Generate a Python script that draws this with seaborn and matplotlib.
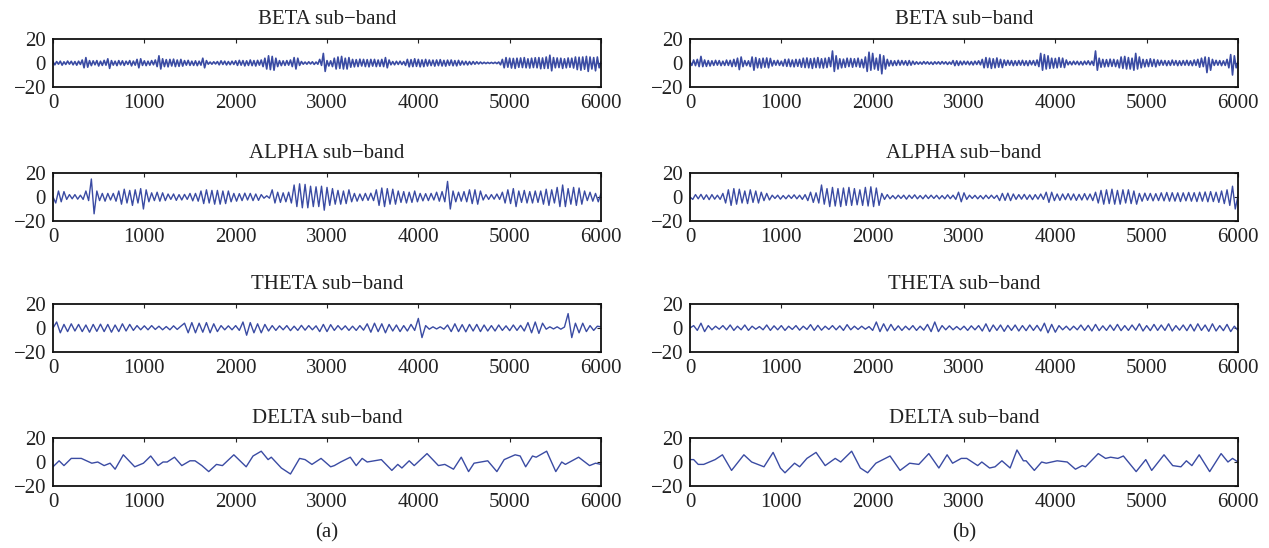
import numpy as np
import matplotlib
matplotlib.use("Agg")
import matplotlib.pyplot as plt
import seaborn as sns

beta_step = 20
alpha_step = 30
theta_step = 40

# (a) BETA, 20 samples per value, one row per 600 samples
beta_a = [
    [1, -1.5, 1.2, -1, 1.5, -1.8, 1, -1.2, 1.6, -1, 1.4, -1.5, 1.2, -1.8, 1.5, -1.2, 2.5, -4, 4.5, -3.5, 2, -2.2, 1.8, -1.5, 2, -2.5, 1.5, -2, 2.2, -1.8],
    [3.5, -4.5, 2, -1.8, 1.5, -2.2, 2, -1.6, 1.8, -2, 1.5, -1.2, 2, -2.4, 1.6, -1.8, 3, -4, 3.5, -2, 1.8, -2.2, 1.5, -1.8, 2, -1.5, 2.5, -3, 6, -5],
    [3.5, -3, 2.8, -3.2, 3, -2.5, 3.2, -3, 2.5, -2.8, 3, -2.6, 2, -1.8, 2.2, -2, 1.5, -2, 1.8, -2.2, 1.5, -1.8, 4, -4, 2, -1, 0.8, -1, 1, -0.8],
    [1.2, -1.5, 1.8, -1.2, 1.5, -1.6, 1.2, -1.4, 1.5, -1.2, 1.8, -2, 2.2, -1.8, 2, -2.4, 1.8, -2, 2.5, -2.2, 2, -2.5, 2.2, -1.8, 2.5, -3, 4, -5, 6, -5.5],
    [5.5, -6, 4, -3, 2, -2.2, 1.8, -2, 2, -1.8, 2.5, -3, 4.5, -5, 4, -2, 1.2, -1, 0.8, -1, 1, -0.8, 1, -1.2, 0.8, -1, 3, -2, 8, -7],
    [2, -2.5, 1.8, -3, 4, -5, 5, -4.5, 5.5, -5, 4, -5, 4.5, -3.5, 3, -3.2, 2.8, -3, 3.2, -2.5, 3, -3, 2.8, -3.2, 3, -2.6, 3, -3, 2.5, -2.8],
    [3, -3, 4.5, -4, 2.5, -1.5, 1.2, -1.5, 1.4, -1.2, 1.5, -1.3, 1.2, -2, 3, -3.2, 2.8, -3, 3.5, -2.8, 3, -3.2, 2.6, -3, 3, -2.5, 2.5, -2.2, 2.4, -2.6],
    [2.5, -2.2, 2.8, -2.5, 2.2, -2.6, 2.4, -2, 2.5, -2.3, 2, -2.4, 2.2, -1.8, 1.6, -1.5, 1.4, -1.6, 1.2, -1.3, 1.2, -1, 1, -0.8, 0.8, -0.6, 0.6, -0.5, 0.5, -0.4],
    [0.5, -0.4, 0.6, -0.5, 0.8, -1.5, 3, -4, 4.5, -3.5, 4, -4.2, 3.8, -4.5, 4, -3.6, 4.2, -3.8, 4.5, -4, 3.5, -4.2, 4, -3.8, 4.4, -4, 4.5, -4.8, 4.2, -4.5],
    [5, -4.5, 6.5, -6.5, 4.5, -4, 4.2, -3.8, 4, -4.5, 3.5, -4, 4.2, -3.6, 4, -4.2, 5, -5.5, 4.8, -6, 5, -5.2, 5.5, -7, 5, -5, 4.5, -6.5, 5, -4, 1],
]

# (b) BETA
beta_b = [
    [1, -2, 2.5, -2.2, 3, -3, 5.5, -3, 2.5, -2.8, 2, -2.5, 1.8, -2, 2.2, -1.8, 2, -2.2, 1.5, -2, 2.4, -2, 2.2, -3, 3, -2.8, 4, -5.5, 5, -3],
    [2, -2.2, 1.8, -3, 5, -6, 4.5, -4, 3.5, -4.2, 4, -3.5, 4.2, -4, 3.8, -2.5, 2, -1.8, 2.2, -2, 1.5, -2.5, 3, -2.8, 3.2, -3, 2.5, -3.2, 3, -2.8],
    [3, -3.5, 4, -3.8, 4.2, -4, 3.6, -4.5, 4, -3.8, 4.5, -4, 3.5, -4.2, 4, -3.8, 4.5, -3, 10, -7, 6, -5, 3.5, -4, 3.2, -3.6, 4, -3, 3.8, -3.5],
    [3.5, -3, 4, -3.5, 3, -4, 5, -7, 9, -6, 8, -5, 4, -6, 7, -9, 6, -5, 3, -2.5, 2, -2.2, 1.8, -2, 2.2, -1.8, 2, -1.5, 1.8, -2],
    [2, -1.8, 1.5, -1.2, 1, -1, 0.8, -1, 1.2, -0.8, 1, -1, 0.8, -1.2, 1, -0.8, 1, -1, 1.2, -0.8, 1, -1.2, 0.8, -1, 2, -2.2, 1.8, -2, 1.5, -1.5],
    [1.5, -1.2, 1.4, -1.5, 1.2, -1.6, 1.5, -1.2, 1.8, -1.5, 3, -4, 4.5, -3.8, 4, -4.5, 3.5, -4, 4.2, -3.5, 3, -3.8, 2.5, -2, 2.2, -1.8, 2, -2.2, 1.8, -2],
    [2, -1.8, 2.2, -2, 1.8, -2.2, 2, -1.5, 2, -2, 2.5, -3, 8, -6, 7, -5, 6, -4.5, 4, -4.2, 3.8, -4, 4.5, -3.5, 4, -3.8, 2.5, -1.5, 1.2, -1.5],
    [1.5, -1.2, 1.4, -1.5, 1.2, -1.6, 1.5, -1.2, 1.8, -1.5, 1.5, -2, 10, -6, 4, -3.5, 3, -3.2, 2.8, -3, 3.2, -2.8, 3, -3, 2.5, -4, 5, -4.5, 5.5, -5],
    [4.5, -5, 4, -6, 8, -5, 5, -4, 3, -3.2, 2.8, -3, 3.5, -2.8, 3, -3.2, 2.5, -2, 2.2, -1.8, 2, -2.2, 1.8, -2, 2.4, -1.8, 2, -2.2, 1.8, -2],
    [2, -1.8, 2.2, -2, 1.8, -2.2, 2.5, -2, 3, -3.5, 4, -3, 5, -8, 4.5, -6, 3, -2, 2.2, -1.8, 2, -2.2, 1.8, -2, 3, -4, 7, -10, 6, -4, 1],
]

# ALPHA, 30 samples per value
alpha_a = [
    [0, -5, 5, -4, 4.5, -2, 2, -1.5, 2, -1.8, 1.5, -2, 5, -3, 15, -14, 5, -3, 3, -3.5],
    [3, -2.5, 3, -3.5, 5, -6, 6.5, -5, 5.5, -7, 6, -5, 7, -10, 6, -4, 3.5, -3, 4, -3.5],
    [3.5, -3, 2.5, -2, 2.5, -2.8, 2, -2.5, 2.2, -2, 3, -3.2, 3, -3.5, 5, -5.5, 6, -5, 5.5, -6],
    [5.5, -6, 5, -5.5, 5, -4, 3, -3.5, 2.8, -3, 3.2, -2.5, 3, -3, 2.5, -2.8, 2, -1, 1, -1],
    [6, -5, 4, -4.5, 3.5, -4, 4, -5, 10, -8, 11, -9, 10.5, -9, 9, -8, 8.5, -8, 9, -11],
    [8, -7, 7, -6, 5.5, -6, 5, -5.5, 6, -4, 3, -3.5, 2.5, -3, 3, -2.8, 3.2, -3, 6, -7],
    [7.5, -8, 7, -6, 6.5, -6, 5, -4.5, 4.5, -5, 4, -4.5, 5, -4, 3, -3.2, 2.8, -3, 3, -2.5],
    [4, -3.5, 4.5, -4, 13, -10, 5, -4, 4, -3.5, 4.5, -4, 6, -5.5, 6, -6, 5, -2.5, 2, -2],
    [2, -1.8, 2.5, -2, 4, -5, 6, -5.5, 7, -8, 5, -4.5, 5.5, -5, 4.5, -5, 5, -4.5, 5, -6],
    [6.5, -7, 6, -5, 8, -8, 10, -8, 7, -6, 8, -7, 7.5, -6, 5, -3, 4, -3.5, 3, -4, 3],
]

alpha_b = [
    [0, -2, 2, -1.5, 2.2, -2, 1.8, -2.2, 2, -1.8, 1.5, -2, 3, -5, 6, -7, 7, -6, 6.5, -5],
    [5, -5.5, 6, -4.5, 5, -5, 4, -3, 3, -2.5, 1.5, -1.2, 1.5, -1.8, 1.2, -1.5, 1.5, -1.2, 1.8, -1.5],
    [1.5, -2, 2, -3, 4, -4.5, 3.5, -5, 10, -6, 7, -8, 8, -7.5, 7, -8, 7.5, -7, 8, -7],
    [7, -6.5, 6, -7, 8, -7.5, 8.5, -8, 7.5, -7, 3, -2, 2, -1.5, 1.2, -1.5, 1.5, -1.2, 1.5, -1.8],
    [1.5, -1.2, 1.8, -1.5, 1.2, -1.5, 1.6, -1.3, 1.5, -1.2, 1.4, -1.6, 1.2, -1.5, 1.8, -1.4, 1.5, -2, 4, -4],
    [3.5, -2, 1.5, -1.2, 1.4, -1.5, 1.2, -1.6, 1.5, -1.3, 1.5, -1.2, 1.4, -3, 3, -2.8, 3.2, -3, 2.5, -2],
    [2, -1.8, 2.2, -2, 1.8, -2.2, 2, -1.8, 2.5, -2, 4, -4.5, 4, -3, 2.5, -2.8, 2.5, -2.2, 2.8, -2.5],
    [2.5, -2.8, 2.2, -2.5, 2.8, -2.4, 2.5, -3, 4, -5, 5.5, -6, 6, -5.5, 6.5, -6, 5.5, -6, 6, -5],
    [6, -5.5, 5, -6, 3, -3.5, 3.2, -2.8, 3, -3.2, 2.8, -3, 3.5, -3.2, 3.8, -3.5, 3.6, -3.4, 3.5, -3.8],
    [3.5, -3.2, 3.8, -3.5, 3.6, -3.8, 4, -3.5, 4.2, -4, 4.5, -3.8, 4, -4.5, 5, -5.5, 6, -7, 9, -10, 1],
]

# THETA, 40 samples per value
theta_a = [
    [0, 5, -4, 3, -3, 3.5, -2.5, 3, -3, 2.5, -3.5, 3, -2.8, 3.2, -3],
    [3, -3.5, 2.5, -3, 3.5, -2.5, 3, -2, 2, -1.5, 1.8, -1.5, 2, -1.2, 1.5],
    [-1.5, 1.2, -1.5, 1.8, -1.2, 1.5, 4, -4, 4.5, -4, 4, -3.5, 4.5, -4, 3.5],
    [-3, 2, -1.5, 1.8, -1.5, 2, -2, 5, -6, 4.5, -4, 3.5, -4, 3, -2.5],
    [2, -2, 1.8, -1.5, 2, -2.2, 1.5, -2, 2.2, -1.8, 2, -1.5, 1.8, -3, 3],
    [-3, 2.8, -2, 2, -1.5, 1.8, -2, 1.5, -2, 2, -1.8, 3.5, -3.5, 4, -3],
    [3.5, -4, 3, -2.5, 2.5, -3, 2, -2.5, 3, -2, 8, -8, 2, -1, 1],
    [-0.8, 1, -1, 2.5, -3, 3.5, -3, 2.8, -3.2, 3, -2.5, 3, -3, 2.5, -2.5],
    [2, -2.5, 2.5, -2, 1.8, -2.2, 2.5, -2, 2.2, -2.5, 4.5, -4, 5, -4.5, 4],
    [-1, 1, -0.8, 1, -1, 0.8, 12, -8, 4, -4, 4, -3, 2, -2, 1.5, 1],
]

theta_b = [
    [0, 2, -2, 4, -3, 2, -1.5, 1.5, -1, 2, -1.5, 2.5, -2, 1.5, -1.5],
    [2.5, -2, 1.5, -1, 1.2, -1.5, 2.5, -2, 1.8, -1.5, 2, -2, 1.5, -1.2, 2],
    [-1.8, 1.5, -1.2, 2.8, -2, 2.2, -1.8, 1.5, -1.2, 2, -1.5, 1.8, -2, 2.8, -1.5],
    [1.5, -1.2, 1.5, -1, 1.2, -2, 5, -3, 3.5, -2.5, 3, -2, 1.8, -2, 1.5],
    [-1.5, 2, -2, 1.5, -1.8, 3, -3, 5, -3, 2, -1.5, 1.8, -1.5, 1.2, -1.5],
    [1.5, -2, 1.8, -1.5, 2, -2.5, 3.5, -3, 2.5, -2, 2.5, -2.8, 2.2, -2, 2.5],
    [-2.5, 2, -2.2, 2.5, -2, 2.2, -2.5, 4, -4, 3, -3.5, 2, -1.5, 1.5, -1.8],
    [1.5, -1.5, 2.5, -2, 2.2, -2.5, 3, -2.2, 1.8, -2, 2.5, -2, 3, -2.2, 2],
    [-2, 2.5, -1.8, 3.5, -2.5, 2, -2.2, 3, -2, 2.5, -2, 3.5, -2.5, 2, -1.8],
    [2.5, -2.2, 3, -2.5, 3.5, -2, 2.5, -2.8, 3.5, -2.5, 2, -2.2, 3, -3, 1.5, -2],
]

# DELTA, read as (sample, value) turning points
delta_a_t = [0, 67, 120, 200, 310, 425, 490, 560, 625, 680, 770, 895, 990, 1070, 1150,
             1205, 1250, 1330, 1410, 1500, 1555, 1630, 1705, 1790, 1855, 1980, 2115, 2190,
             2280, 2355, 2390, 2500, 2600, 2700, 2760, 2835, 2935, 3040, 3080, 3150, 3255,
             3320, 3385, 3440, 3595, 3710, 3775, 3820, 3900, 3955, 4095, 4220, 4290, 4385,
             4470, 4550, 4610, 4760, 4860, 4940, 5060, 5115, 5175, 5250, 5290, 5405, 5505,
             5570, 5610, 5755, 5875, 5940, 6000]
delta_a_v = [-4, 1, -3, 3, 3, -1, 0, -3, -1, -6, 6, -4, -1, 5, -3, 0, 0, 4, -3, 1, 1, -3,
             -8, -2, -3, 6, -4, 5, 9, 2, 4, -5, -10, 3, 2, -2, 3, -4, -3, 0, 4, -3, 3, 0, 2,
             -7, -2, -5, 1, -3, 7, -3, -2, -6, 4, -8, -1, 1, -8, 2, 6, 5, -4, 5, 4, 9, -8, 0,
             -2, 4, -3, -1, -2]

delta_b_t = [0, 40, 90, 150, 275, 355, 455, 590, 675, 810, 910, 990, 1040, 1145, 1200,
             1280, 1380, 1480, 1590, 1650, 1770, 1865, 1945, 2035, 2190, 2300, 2405, 2505,
             2615, 2725, 2815, 2875, 2970, 3030, 3150, 3195, 3280, 3340, 3415, 3505, 3580,
             3650, 3680, 3770, 3850, 3900, 4020, 4130, 4220, 4295, 4330, 4470, 4550, 4605,
             4685, 4745, 4885, 4990, 5055, 5190, 5285, 5375, 5435, 5495, 5575, 5690, 5815,
             5890, 5940, 6000]
delta_b_v = [2, 2, -2, -2, 2, 6, -7, 6, 0, -4, 8, -5, -9, -1, -4, 3, 8, -3, 3, 0, 9, -5,
             -9, -1, 5, -7, -1, -2, 7, -5, 6, -1, 3, 3, -3, 0, -5, -4, 1, -5, 10, 1, 1, -7,
             0, -1, 1, 0, -6, -3, -4, 7, 3, 4, 3, 5, -8, 2, -7, 6, -3, -4, 1, -3, 6, -8, 7,
             0, 3, 0]

titles = ["BETA sub\u2212band", "ALPHA sub\u2212band", "THETA sub\u2212band", "DELTA sub\u2212band"]
panel_labels = ["(a)", "(b)"]
xticks = [0, 1000, 2000, 3000, 4000, 5000, 6000]
yticks = [-20, 0, 20]


def stepped(rows, step):
    v = np.concatenate([np.asarray(r, dtype=float) for r in rows])
    return np.arange(len(v)) * step, v


columns = [
    [stepped(beta_a, beta_step), stepped(alpha_a, alpha_step),
     stepped(theta_a, theta_step), (np.array(delta_a_t), np.array(delta_a_v))],
    [stepped(beta_b, beta_step), stepped(alpha_b, alpha_step),
     stepped(theta_b, theta_step), (np.array(delta_b_t), np.array(delta_b_v))],
]

sns.set_theme(style="white")
plt.rcParams["font.family"] = ["Liberation Serif", "DejaVu Serif"]
plt.rcParams["axes.unicode_minus"] = True

W, H = 1269, 548
fig = plt.figure(figsize=(W / 100, H / 100), dpi=100)

col_left = [53, 690]
col_width = 548
row_top = [39, 173, 304, 438]
row_height = 48
line_color = "#3a4ba3"
line_widths = [1.2, 1.0, 1.0, 1.0]

for c, col in enumerate(columns):
    for r, (x, y) in enumerate(col):
        ax = fig.add_axes([col_left[c] / W, 1 - (row_top[r] + row_height) / H,
                           col_width / W, row_height / H])
        sns.lineplot(x=x, y=y, ax=ax, color=line_color, linewidth=line_widths[r],
                     estimator=None, sort=False)
        ax.set_xlim(0, 6000)
        ax.set_ylim(-20, 20)
        ax.set_xticks(xticks)
        ax.set_yticks(yticks)
        ax.set_xlabel("")
        ax.set_ylabel("")
        ax.set_title(titles[r], fontsize=15, pad=11, color="#222222")
        ax.tick_params(direction="in", length=3, width=0.8, labelsize=15,
                       top=True, right=True, colors="#222222", pad=5)
        for s in ax.spines.values():
            s.set_visible(True)
            s.set_color("#111111")
            s.set_linewidth(1.3)
    fig.text((col_left[c] + col_width / 2) / W, 1 - 533 / H, panel_labels[c],
             ha="center", va="center", fontsize=15, color="#222222")

fig.savefig("out.png", dpi=100, facecolor="white")
